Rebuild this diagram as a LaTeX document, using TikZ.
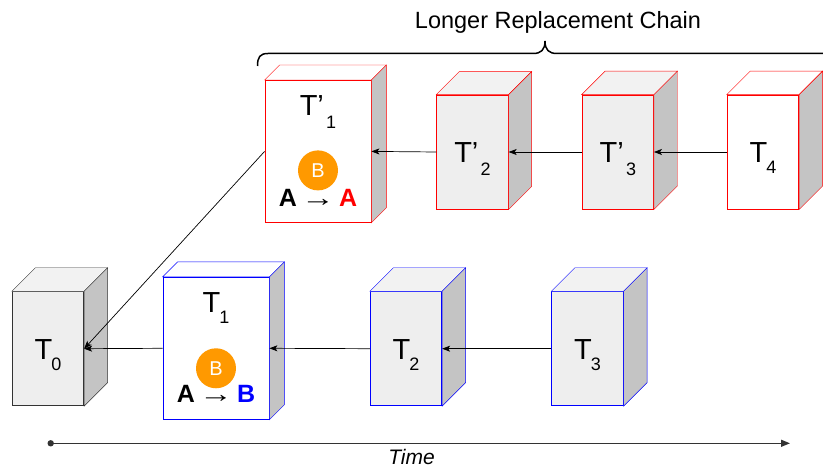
\documentclass[tikz,border=0pt]{standalone}
\usepackage{fontspec}
\setmainfont{Liberation Sans}
\usetikzlibrary{arrows.meta,calc}

\definecolor{facegray}{HTML}{EEEEEE}
\definecolor{topgray}{HTML}{F2F2F2}
\definecolor{sidegray}{HTML}{C4C4C4}
\definecolor{chainred}{HTML}{FF0000}
\definecolor{chainblue}{HTML}{0000FF}
\definecolor{edgedark}{HTML}{333333}
\definecolor{badge}{HTML}{FF9900}

% top and side faces of a box whose front face is the node #1
% #2 depth, #3 edge colour, #4 top fill
\newcommand\cubefaces[4]{%
  \filldraw[draw=#3, fill=#4, line join=miter]
    (#1.north west) -- ++(#2,-#2) -- ($(#1.north east)+(#2,-#2)$)
    -- (#1.north east) -- cycle;
  \filldraw[draw=#3, fill=sidegray, line join=miter]
    (#1.north east) -- ++(#2,-#2) -- ($(#1.south east)+(#2,-#2)$)
    -- (#1.south east) -- cycle;
}
% T with a subscript, and T' with a subscript
\newcommand\tsub[1]{T\kern-0.03em\raisebox{-0.38em}{\fontsize{18}{18}\selectfont #1}}
\newcommand\tpsub[1]{T’\kern0.08em\raisebox{-0.44em}{\fontsize{18}{18}\selectfont #1}}
% the rewrite arrow between two letters
\newcommand\rewrite{\,\scalebox{1.35}[1]{→}\,}

\tikzset{
  smallbox/.style={rectangle, minimum width=71.5pt, minimum height=114pt,
    inner sep=0pt, line width=0.8pt},
  bigbox/.style={rectangle, minimum width=106pt, minimum height=142pt,
    inner sep=0pt, line width=0.8pt},
  tlabel/.style={anchor=base, inner sep=0pt, font=\fontsize{29}{29}\selectfont},
  badgenode/.style={circle, fill=badge, minimum size=40pt, inner sep=0pt,
    text=white, font=\fontsize{20}{20}\selectfont},
  rule/.style={anchor=base, inner sep=0pt, font=\fontsize{25}{25}\selectfont},
  conn/.style={draw=black, line width=0.7pt,
    -{Stealth[length=8pt,width=6pt,inset=2pt]}},
  axis/.style={draw=edgedark, line width=1.3pt,
    -{Triangle[length=9pt,width=7pt]}},
  bracestyle/.style={draw=black, line width=1.5pt},
}

\begin{document}
\begin{tikzpicture}[x=1pt, y=-1pt]
\useasboundingbox (0,0) rectangle (823,470);

% ---- lower chain ----
\node[smallbox, draw=edgedark, fill=facegray] (t0) at (48,348.7) {};
\cubefaces{t0}{23.5}{edgedark}{topgray}
\node[tlabel] (t0lab) at ($(t0.center)+(0,10.5)$) {\tsub{0}};

\node[bigbox, draw=chainblue, fill=white] (t1) at (216,348.3) {};
\cubefaces{t1}{15}{chainblue}{white}
\node[tlabel] (t1lab) at ($(t1.north)+(0,35.5)$) {\tsub{1}};
\node[badgenode] (t1b) at ($(t1.center)+(0,20)$) {B};
\node[rule] (t1rule) at ($(t1.center)+(0,54.5)$)
  {\textbf{A}\rewrite\textbf{\color{chainblue}B}};

\node[smallbox, draw=chainblue, fill=facegray] (t2) at (406,348.7) {};
\cubefaces{t2}{23.5}{chainblue}{topgray}
\node[tlabel] (t2lab) at ($(t2.center)+(0,10.5)$) {\tsub{2}};

\node[smallbox, draw=chainblue, fill=facegray] (t3) at (587.5,348.7) {};
\cubefaces{t3}{23.5}{chainblue}{topgray}
\node[tlabel] (t3lab) at ($(t3.center)+(0,10.5)$) {\tsub{3}};

% ---- upper (replacement) chain ----
\node[bigbox, draw=chainred, fill=white] (p1) at (318,151.4) {};
\cubefaces{p1}{15}{chainred}{white}
\node[tlabel] (p1lab) at ($(p1.north)+(0,35.5)$) {\tpsub{1}};
\node[badgenode] (p1b) at ($(p1.center)+(0,19)$) {B};
\node[rule] (p1rule) at ($(p1.center)+(0,55)$)
  {\textbf{A}\rewrite\textbf{\color{chainred}A}};

\node[smallbox, draw=chainred, fill=facegray] (p2) at (472.5,152) {};
\cubefaces{p2}{23}{chainred}{topgray}
\node[tlabel] (p2lab) at ($(p2.center)+(0,10.5)$) {\tpsub{2}};

\node[smallbox, draw=chainred, fill=facegray] (p3) at (617.8,152) {};
\cubefaces{p3}{23.5}{chainred}{topgray}
\node[tlabel] (p3lab) at ($(p3.center)+(0,10.5)$) {\tpsub{3}};

\node[smallbox, draw=chainred, fill=white] (p4) at (763,152) {};
\cubefaces{p4}{23.5}{chainred}{white}
\node[tlabel] (p4lab) at ($(p4.center)+(0,10.5)$) {\tsub{4}};

% ---- links ----
\draw[conn] (t1.west) -- (t0.east);
\draw[conn] (t2.west) -- (t1.east);
\draw[conn] (t3.west) -- (t2.east);
\draw[conn] (p1.west) -- (t0.east);
\draw[conn] (p2.west) -- (p1.east);
\draw[conn] (p3.west) -- (p2.east);
\draw[conn] (p4.west) -- (p3.east);

% ---- brace over the upper chain ----
\draw[bracestyle] (257.5,66) .. controls (257.5,57) and (260,53.5) .. (268,53.5)
  -- (533,53.5) .. controls (541,53.5) and (545,50) .. (545,41)
  .. controls (545,50) and (549,53.5) .. (557,53.5) -- (824,53.5);
\node[anchor=base, inner sep=0pt, font=\fontsize{23.5}{23.5}\selectfont]
  (chain) at (558,29) {Longer Replacement Chain};

% ---- time axis ----
\coordinate (ts) at (50.7,443.3);
\coordinate (te) at (790,443.3);
\draw[axis] (ts) -- (te);
\fill[edgedark] (ts) circle (3.2);
\node[anchor=base, inner sep=0pt, font=\fontsize{21}{21}\selectfont\itshape]
  (timelab) at (411.5,465) {Time};
\end{tikzpicture}
\end{document}
